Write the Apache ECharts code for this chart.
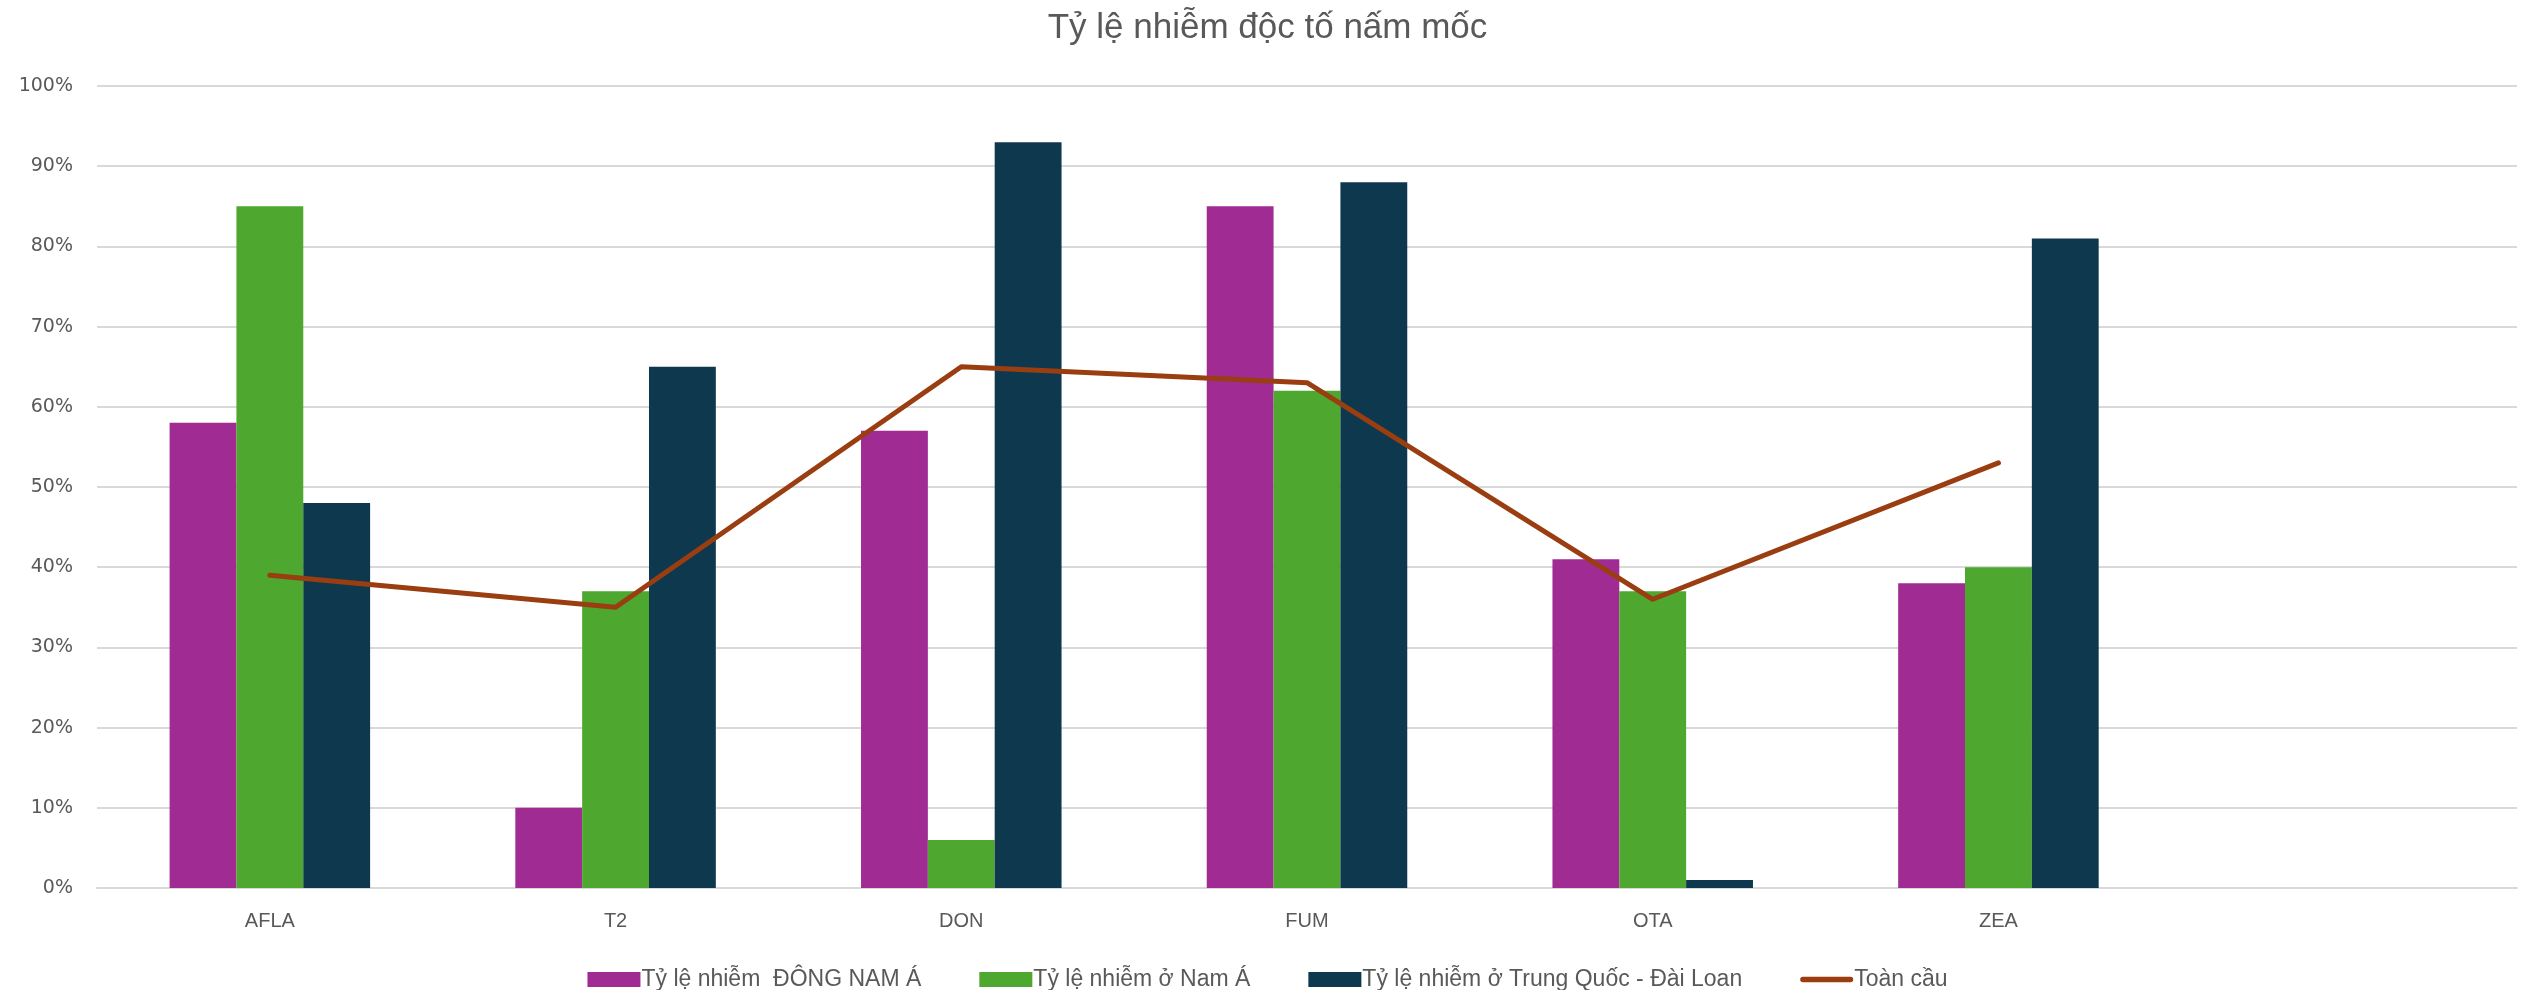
<!DOCTYPE html>
<html>
<head>
<meta charset="utf-8">
<script src="https://cdn.jsdelivr.net/npm/echarts@6/dist/echarts.min.js"></script>
<style>
  html, body { margin: 0; padding: 0; background: #ffffff; }
  #chart { width: 2535px; height: 990px; }
</style>
</head>
<body>
<div id="chart"></div>
<script>
// Mycotoxin categories (an empty slot keeps the spacing on the right)
const categories = ['AFLA', 'T2', 'DON', 'FUM', 'OTA', 'ZEA', ''];

// Contamination rates, percent
const southeastAsia = [58, 10, 57, 85, 41, 38];
const southAsia = [85, 37, 6, 62, 37, 40];
const chinaTaiwan = [48, 65, 93, 88, 1, 81];
const globalRate = [39, 35, 65, 63, 36, 53];

const seriesNames = [
  'Tỷ lệ nhiễm  ĐÔNG NAM Á',
  'Tỷ lệ nhiễm ở Nam Á',
  'Tỷ lệ nhiễm ở Trung Quốc - Đài Loan',
  'Toàn cầu'
];

const titleText = 'Tỷ lệ nhiễm độc tố nấm mốc';

const textColor = '#595959';
const gridColor = '#D9D9D9';
const narrowFont = "'Liberation Sans Narrow', 'Liberation Sans', sans-serif";
const axisFont = "'Liberation Sans', Arial, sans-serif";
const valueFont = "'DejaVu Sans', 'Liberation Sans', sans-serif";

const chart = echarts.init(document.getElementById('chart'), null, { renderer: 'canvas' });

const barSeries = (name, data, color) => ({
  name,
  type: 'bar',
  data,
  barGap: '0%',
  barCategoryGap: '42%',
  itemStyle: { color },
  emphasis: { disabled: true }
});

chart.setOption({
  animation: false,
  backgroundColor: '#ffffff',
  title: {
    text: titleText,
    left: 'center',
    top: 6,
    textStyle: {
      fontFamily: narrowFont,
      fontSize: 35,
      fontWeight: 'normal',
      color: textColor
    }
  },
  legend: {
    top: 963,
    left: 'center',
    itemGap: 58,
    itemWidth: 53,
    itemHeight: 15,
    textStyle: {
      fontFamily: narrowFont,
      fontSize: 23,
      color: textColor,
      padding: [0, 0, 0, -4]
    },
    data: [
      { name: seriesNames[0], icon: 'rect' },
      { name: seriesNames[1], icon: 'rect' },
      { name: seriesNames[2], icon: 'rect' },
      { name: seriesNames[3], icon: 'path://M3,0 L57,0 A3,3 0 0 1 57,6 L3,6 A3,3 0 0 1 3,0 Z' }
    ]
  },
  grid: {
    left: 97,
    right: 18,
    top: 86,
    bottom: 102,
    containLabel: false
  },
  xAxis: {
    type: 'category',
    data: categories,
    axisTick: { show: false },
    axisLine: { show: true, lineStyle: { color: gridColor, width: 2 } },
    axisLabel: {
      fontFamily: axisFont,
      fontSize: 20,
      color: textColor,
      margin: 23
    }
  },
  yAxis: {
    type: 'value',
    min: 0,
    max: 100,
    interval: 10,
    axisLine: { show: false },
    axisTick: { show: false },
    splitLine: { lineStyle: { color: gridColor, width: 2 } },
    axisLabel: {
      fontFamily: valueFont,
      fontSize: 19,
      color: textColor,
      margin: 24,
      formatter: '{value}%'
    }
  },
  series: [
    barSeries(seriesNames[0], southeastAsia, '#A02B93'),
    barSeries(seriesNames[1], southAsia, '#4EA72E'),
    barSeries(seriesNames[2], chinaTaiwan, '#0E384E'),
    {
      name: seriesNames[3],
      type: 'line',
      data: globalRate,
      symbol: 'none',
      z: 5,
      lineStyle: { color: '#9A3D10', width: 5, cap: 'round', join: 'round' },
      itemStyle: { color: '#9A3D10' },
      emphasis: { disabled: true }
    }
  ]
});
</script>
</body>
</html>
